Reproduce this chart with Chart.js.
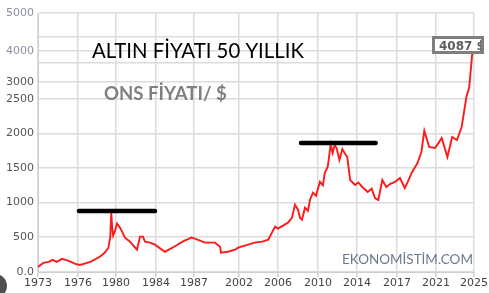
<!DOCTYPE html>
<html><head><meta charset="utf-8">
<script src="https://cdn.jsdelivr.net/npm/chart.js@4/dist/chart.umd.min.js"></script>
<style>html,body{margin:0;padding:0;background:#fff;}canvas{display:block;}</style>
</head><body>
<canvas id="c" width="489" height="293"></canvas>
<script>
// ---- data ----
const xTickYears = [1973,1976,1980,1984,1987,2002,2006,2010,2014,2017,2021,2025];
const yTickValues = [0,500,1000,1500,2000,2500,3000,3500,4000,4500,5000];
const yTickLabels = ['0.0','500','1000','1500','2000','2500','3000','','4000','','5000'];
const years = [1973.0,1973.4,1973.8,1974.1,1974.4,1974.8,1975.3,1975.8,1976.2,1977.3,1978.3,1978.8,1979.2,1979.4,1979.5,1979.6,1979.7,1979.9,1980.1,1980.4,1980.7,1980.9,1981.4,1982.1,1982.4,1982.7,1982.9,1983.4,1983.9,1984.7,1985.3,1986.1,1986.8,1987.3,1990.7,1994.0,1995.7,1996.0,1998.3,2000.7,2001.7,2002.6,2003.6,2004.4,2005.0,2005.7,2006.0,2006.5,2007.0,2007.4,2007.7,2008.0,2008.2,2008.4,2008.7,2009.0,2009.2,2009.5,2009.8,2010.2,2010.5,2010.7,2011.0,2011.3,2011.5,2011.7,2011.9,2012.2,2012.5,2012.8,2013.0,2013.3,2013.8,2014.1,2014.4,2014.8,2015.1,2015.35,2015.6,2015.9,2016.2,2016.5,2016.85,2017.3,2017.8,2018.1,2018.5,2019.1,2019.5,2019.8,2020.3,2020.9,2021.2,2021.6,2022.2,2022.7,2023.2,2023.7,2024.2,2024.5,2024.8,2025.0];
const prices = [72,130,145,173,145,188,159,116,101,145,217,275,347,506,853,636,520,592,694,636,549,491,433,318,506,506,433,419,390,289,347,433,491,477,419,419,361,275,289,318,347,376,419,433,462,650,621,665,708,780,968,896,780,751,925,880,1040,1142,1100,1300,1250,1430,1520,1840,1717,1830,1790,1616,1775,1700,1659,1326,1254,1290,1225,1152,1200,1065,1036,1326,1225,1270,1297,1355,1210,1300,1428,1572,1732,2040,1804,1790,1850,1935,1659,1949,1906,2094,2559,2853,3833,4087];
const level1980 = {from:1976.1, to:1983.9, value:877};
const level2011 = {from:2008.3, to:2015.4, value:1862};
const lastPrice = 4087;

// ---- axis geometry of the (stitched) reference axes ----
const xStops = [[1973,0],[1976,40],[1980,78],[1984,118],[1987,156],[2002,201],[2006,240],[2010,280],[2014,319],[2017,359],[2021,398],[2025,436]];
const yStops = [[0,0],[500,35],[1000,69.5],[1500,104],[2000,138.5],[2500,173],[3000,190],[3500,209],[4000,221],[4500,235],[5000,259]];
const STOPS = {x:xStops, y:yStops};

class PiecewiseScale extends Chart.LinearScale {
  static id = 'piecewise';
  static defaults = Chart.LinearScale.defaults;
  determineDataLimits(){ const s=STOPS[this.id]; this.min=s[0][0]; this.max=s[s.length-1][0]; }
  buildTicks(){ return (this.id==='x'?xTickYears:yTickValues).map(v=>({value:v})); }
  _dec(v){
    const s=STOPS[this.id], tot=s[s.length-1][1];
    if (v<=s[0][0]) return s[0][1]/tot;
    for(let i=1;i<s.length;i++){ if(v<=s[i][0]){ const t=(v-s[i-1][0])/(s[i][0]-s[i-1][0]); return (s[i-1][1]+t*(s[i][1]-s[i-1][1]))/tot; } }
    return 1;
  }
  getPixelForValue(v){ return this.getPixelForDecimal(this._dec(v)); }
  getValueForPixel(p){
    const s=STOPS[this.id], tot=s[s.length-1][1], d=this.getDecimalForPixel(p)*tot;
    for(let i=1;i<s.length;i++){ if(d<=s[i][1]){ const t=(d-s[i-1][1])/(s[i][1]-s[i-1][1]); return s[i-1][0]+t*(s[i][0]-s[i-1][0]); } }
    return s[s.length-1][0];
  }
}
Chart.register(PiecewiseScale);

function fitText(ctx, text, weight, family, targetW, x, baseline, color){
  let size = 20;
  ctx.font = `${weight} ${size}px ${family}`;
  size = size*targetW/ctx.measureText(text).width;
  ctx.font = `${weight} ${size}px ${family}`;
  ctx.fillStyle = color; ctx.textAlign='left'; ctx.textBaseline='alphabetic';
  ctx.fillText(text, x, baseline);
}

const decor = {
  id:'decor',
  afterDraw(chart){
    const ctx = chart.ctx;
    ctx.save();
    fitText(ctx,'ALTIN FİYATI 50 YILLIK','normal','Lato',212,92,58,'#000');
    fitText(ctx,'ONS FİYATI/ $','bold','Lato',123,104,100,'#808080');
    fitText(ctx,'EKONOMİSTİM.COM','normal','Lato',131,342,264,'#6b7a8f');
    // value box
    ctx.fillStyle='#fff'; ctx.fillRect(433,37,50,15);
    ctx.font='bold 12px "DejaVu Sans"'; ctx.fillStyle='#5e5e5e';
    ctx.fillText(lastPrice+' $',439,50);
    ctx.strokeStyle='#7f7f7f'; ctx.lineWidth=3; ctx.strokeRect(433.5,37.5,49,15);
    // corner disc
    ctx.fillStyle='#505050'; ctx.beginPath(); ctx.arc(-5,286,12,0,Math.PI*2); ctx.fill();
    ctx.restore();
  }
};

const lvl = l => [{x:l.from,y:l.value},{x:l.to,y:l.value}];
new Chart(document.getElementById('c'), {
  type:'line',
  data:{datasets:[
    {data:lvl(level1980), borderColor:'#000', borderWidth:4.5, borderCapStyle:'round', pointRadius:0, order:0},
    {data:lvl(level2011), borderColor:'#000', borderWidth:4.5, borderCapStyle:'round', pointRadius:0, order:0},
    {data:years.map((y,i)=>({x:y,y:prices[i]})), borderColor:'#ff1a1a', borderWidth:1.9, pointRadius:0, tension:0, order:1}
  ]},
  options:{
    responsive:false, animation:false, devicePixelRatio:1,
    layout:{padding:{top:13,right:15,left:0,bottom:0}},
    plugins:{legend:{display:false}, tooltip:{enabled:false}},
    scales:{
      x:{type:'piecewise', afterFit(s){s.height=21;},
        grid:{color:'#dcdcdc', lineWidth:1.5, tickLength:5, tickColor:'#cfcfcf'},
        border:{color:'#cfcfcf'},
        ticks:{autoSkip:false, maxRotation:0, padding:0, color:'#444', font:{family:'DejaVu Sans', size:11},
          callback:(v,i)=>String(xTickYears[i])}},
      y:{type:'piecewise', afterFit(s){s.width=38;},
        grid:{color:'#dcdcdc', lineWidth:1.5, drawTicks:false},
        border:{color:'#cfcfcf'},
        ticks:{padding:4, font:{family:'DejaVu Sans', size:11},
          color:c=> (c.tick && c.tick.value>=4000) ? '#8a90a2' : '#555',
          callback:(v,i)=>yTickLabels[i]}}
    }
  },
  plugins:[decor]
});
</script>
</body></html>
